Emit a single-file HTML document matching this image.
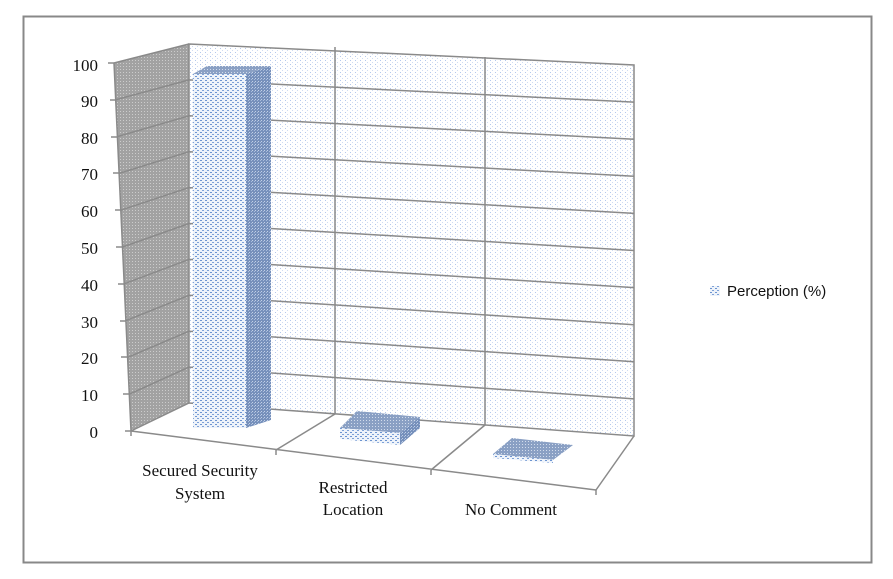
<!DOCTYPE html>
<html><head><meta charset="utf-8"><style>
html,body{margin:0;padding:0;background:#fff;}
svg{display:block}
</style></head><body>
<svg width="893" height="579" viewBox="0 0 893 579" xmlns="http://www.w3.org/2000/svg">
<defs>
<pattern id="gray" width="3" height="3" patternUnits="userSpaceOnUse">
<rect width="3" height="3" fill="#a2a2a2"/><rect width="1" height="1" fill="#cccccc"/></pattern>
<pattern id="back" width="5" height="4" patternUnits="userSpaceOnUse">
<rect width="5" height="4" fill="#fff"/><rect width="1" height="1" fill="#b4c8ec"/><rect x="2" y="2" width="1" height="1" fill="#d0dcf2"/></pattern>
<pattern id="barf" width="5" height="4" patternUnits="userSpaceOnUse">
<rect width="5" height="4" fill="#eef3fa"/><rect width="2" height="1" fill="#6c94d0"/><rect x="2" y="2" width="2" height="1" fill="#7ea2d8"/></pattern>
<pattern id="bars" width="3" height="3" patternUnits="userSpaceOnUse">
<rect width="3" height="3" fill="#7690bb"/><rect width="1" height="1" fill="#c2d0e6"/><rect x="2" y="1" width="1" height="1" fill="#a8bcdc"/></pattern>
<pattern id="bart" width="3" height="3" patternUnits="userSpaceOnUse">
<rect width="3" height="3" fill="#8aa0c4"/><rect width="1" height="1" fill="#d2dcec"/></pattern>
</defs>
<rect x="23.5" y="16.5" width="848" height="546" fill="#fff" stroke="#888" stroke-width="2"/>
<polygon points="114,63 189,44 189,403 131,431" fill="url(#gray)"/>
<polygon points="189,44 634,65 634,436 189,403" fill="url(#back)" stroke="#8a8a8a" stroke-width="1.5"/>
<g stroke="#8a8a8a" stroke-width="1.5" fill="none">
<line x1="114" y1="63" x2="189" y2="44"/>
<line x1="114" y1="63" x2="131" y2="431"/>
<line x1="115.7" y1="99.8" x2="189" y2="79.9"/><line x1="634" y1="102.1" x2="189" y2="79.9"/>
<line x1="117.4" y1="136.6" x2="189" y2="115.8"/><line x1="634" y1="139.2" x2="189" y2="115.8"/>
<line x1="119.1" y1="173.4" x2="189" y2="151.7"/><line x1="634" y1="176.3" x2="189" y2="151.7"/>
<line x1="120.8" y1="210.2" x2="189" y2="187.6"/><line x1="634" y1="213.4" x2="189" y2="187.6"/>
<line x1="122.5" y1="247.0" x2="189" y2="223.5"/><line x1="634" y1="250.5" x2="189" y2="223.5"/>
<line x1="124.2" y1="283.8" x2="189" y2="259.4"/><line x1="634" y1="287.6" x2="189" y2="259.4"/>
<line x1="125.9" y1="320.6" x2="189" y2="295.3"/><line x1="634" y1="324.7" x2="189" y2="295.3"/>
<line x1="127.6" y1="357.4" x2="189" y2="331.2"/><line x1="634" y1="361.8" x2="189" y2="331.2"/>
<line x1="129.3" y1="394.2" x2="189" y2="367.1"/><line x1="634" y1="398.9" x2="189" y2="367.1"/>
<line x1="131" y1="431" x2="189" y2="403"/>
<line x1="335" y1="47" x2="335" y2="414"/>
<line x1="485" y1="57" x2="485" y2="425"/>
<line x1="108" y1="63" x2="114" y2="63"/><line x1="110" y1="100" x2="116" y2="100"/>
<line x1="111" y1="137" x2="117" y2="137"/><line x1="113" y1="173" x2="119" y2="173"/>
<line x1="115" y1="210" x2="121" y2="210"/><line x1="116" y1="247" x2="122" y2="247"/>
<line x1="118" y1="284" x2="124" y2="284"/><line x1="120" y1="321" x2="126" y2="321"/>
<line x1="121" y1="357" x2="127" y2="357"/><line x1="123" y1="394" x2="129" y2="394"/>
<line x1="125" y1="431" x2="131" y2="431"/>
<line x1="131" y1="431" x2="596" y2="490"/>
<line x1="596" y1="490" x2="634" y2="436"/>
<line x1="596" y1="490" x2="596" y2="495"/>
<line x1="276" y1="450" x2="335" y2="414"/>
<line x1="276" y1="450" x2="276" y2="455"/>
<line x1="431" y1="470" x2="485" y2="425"/>
<line x1="431" y1="470" x2="431" y2="475"/>
<line x1="131" y1="431" x2="131" y2="436"/>
</g>
<polygon points="246,74 271,66 271,420 246,428" fill="url(#bars)"/>
<polygon points="193,74 207,66 271,66 246,74" fill="url(#bart)"/>
<rect x="193" y="74" width="53" height="354" fill="url(#barf)"/>
<polygon points="340,428 357,411 420,417 400,433" fill="url(#bart)"/>
<polygon points="400,433 420,417 420,428 400,445" fill="url(#bars)"/>
<polygon points="340,428 400,433 400,445 340,439" fill="url(#barf)"/>
<polygon points="493,454 512,438 573,445 553,460" fill="url(#bart)"/>
<polygon points="493,454 553,460 553,463 493,458" fill="url(#barf)"/>
<g font-family="Liberation Serif, serif" font-size="17" fill="#111" text-anchor="end">
<text x="98" y="71">100</text><text x="98" y="107">90</text><text x="98" y="144">80</text>
<text x="98" y="180">70</text><text x="98" y="217">60</text><text x="98" y="254">50</text>
<text x="98" y="291">40</text><text x="98" y="328">30</text><text x="98" y="364">20</text>
<text x="98" y="401">10</text><text x="98" y="438">0</text>
</g>
<g font-family="Liberation Serif, serif" font-size="17" fill="#111" text-anchor="middle">
<text x="200" y="476">Secured Security</text><text x="200" y="499">System</text>
<text x="353" y="493">Restricted</text><text x="353" y="515">Location</text>
<text x="511" y="515">No Comment</text>
</g>
<rect x="710" y="286" width="10" height="10" fill="url(#barf)"/>
<text x="727" y="296" font-family="Liberation Sans, sans-serif" font-size="15" fill="#111">Perception (%)</text>
</svg>
</body></html>
